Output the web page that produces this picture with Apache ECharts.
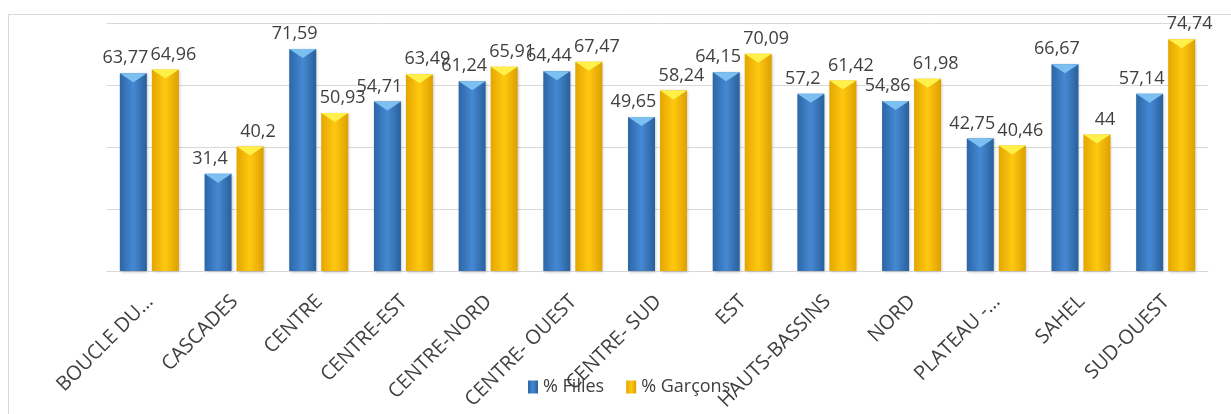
<!DOCTYPE html>
<html>
<head>
<meta charset="utf-8">
<script src="https://cdn.jsdelivr.net/npm/echarts@6/dist/echarts.min.js"></script>
<style>
html,body{margin:0;padding:0;background:#fff;}
#c{width:1231px;height:414px;}
</style>
</head>
<body>
<div id="c"></div>
<script>
const categories = ["BOUCLE DU…","CASCADES","CENTRE","CENTRE-EST","CENTRE-NORD","CENTRE- OUEST","CENTRE- SUD","EST","HAUTS-BASSINS","NORD","PLATEAU -…","SAHEL","SUD-OUEST"];
const filles  = [63.77,31.4,71.59,54.71,61.24,64.44,49.65,64.15,57.2,54.86,42.75,66.67,57.14];
const garcons = [64.96,40.2,50.93,63.49,65.91,67.47,58.24,70.09,61.42,61.98,40.46,44,74.74];
const seriesNames = ["% Filles","% Garçons"];

const FONT = "'Open Sans', 'Noto Sans', sans-serif";
const TXT = '#404040';

function grad(c1, c2, c3){
  return new echarts.graphic.LinearGradient(0,0,1,0,[
    {offset:0,color:c1},{offset:0.5,color:c2},{offset:1,color:c3}
  ]);
}
const blueFill = grad('#2c66a6','#4589d3','#2a5f9b');
const yellowFill = grad('#e4a600','#ffc810','#dda000');

const fmt = p => String(p.value).replace('.', ',');
const labelCfg = {show:true, position:'top', distance:6, color:TXT, fontFamily:FONT, fontSize:18, formatter:fmt};

const chart = echarts.init(document.getElementById('c'), null, {renderer:'canvas'});
chart.setOption({
  animation:false,
  backgroundColor:'#fff',
  graphic:[{type:'rect', shape:{x:8.5,y:14.5,width:1240,height:420}, style:{fill:'none', stroke:'#d9d9d9', lineWidth:1}, silent:true, z:-1}],
  grid:{left:107, right:23, top:23, bottom:143},
  legend:{
    data:seriesNames, left:523, top:373, itemWidth:10, itemHeight:13, itemGap:22, icon:'rect',
    textStyle:{color:TXT, fontFamily:FONT, fontSize:18}
  },
  xAxis:{
    type:'category', data:categories,
    axisLine:{lineStyle:{color:'#d9d9d9'}}, axisTick:{show:false},
    axisLabel:{interval:0, rotate:45, color:TXT, fontFamily:FONT, fontSize:20, margin:14, padding:[0,9,0,0], align:'right', verticalAlign:'top'}
  },
  yAxis:{
    type:'value', min:0, max:80, interval:20,
    axisLabel:{show:false}, axisLine:{show:false}, axisTick:{show:false},
    splitLine:{lineStyle:{color:'#d9d9d9'}}
  },
  series:[
    {name:seriesNames[0], type:'bar', data:filles, barWidth:27, barGap:'18.5%',
     itemStyle:{color:blueFill, shadowColor:'rgba(0,0,0,0.25)', shadowBlur:3, shadowOffsetX:1, shadowOffsetY:1},
     label:labelCfg, labelLayout:{dx:-8}},
    {name:seriesNames[1], type:'bar', data:garcons, barWidth:27,
     itemStyle:{color:yellowFill, shadowColor:'rgba(0,0,0,0.25)', shadowBlur:3, shadowOffsetX:1, shadowOffsetY:1},
     label:labelCfg, labelLayout:{dx:8}},
    {name:'bevelF', type:'pictorialBar', data:filles, symbol:'path://M0,0 L10,0 L5,10 Z', symbolSize:[27,9],
     symbolPosition:'end', symbolOffset:[-16,0], symbolRepeat:false, itemStyle:{color:'#7cc0f2'}, z:3, silent:true},
    {name:'bevelG', type:'pictorialBar', data:garcons, symbol:'path://M0,0 L10,0 L5,10 Z', symbolSize:[27,9],
     symbolPosition:'end', symbolOffset:[16,0], symbolRepeat:false, itemStyle:{color:'#fff04a'}, z:3, silent:true}
  ]
});
</script>
</body>
</html>
